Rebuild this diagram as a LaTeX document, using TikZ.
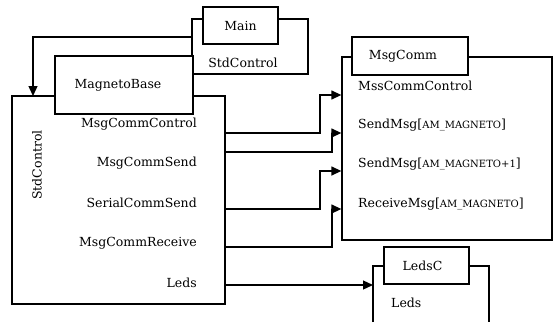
\documentclass[tikz,border=0pt]{standalone}
\usepackage{fontspec}
\setmainfont{DejaVu Serif}
\usetikzlibrary{arrows.meta}
\tikzset{
  frame/.style={draw,line width=1.3pt,minimum width=#1,inner sep=0pt},
  comp/.style={draw,fill=white,line width=1.3pt,inner sep=0pt,font=\fontsize{12.5}{15}\selectfont},
  iface/.style={inner sep=0pt,font=\fontsize{12.5}{15}\selectfont},
  wire/.style={line width=1.3pt,-{Triangle[length=10pt,width=9pt]}}
}
\newcommand{\am}[1]{{\fontsize{10}{12}\selectfont #1}}
\begin{document}
\begin{tikzpicture}[x=1pt,y=-1pt]
            \useasboundingbox (0,0) rectangle (559,322);
            % component frames
            \node[frame=116pt,minimum height=55pt] (mainf) at (250,46.5) {};
            \node[frame=213pt,minimum height=208pt] (magf) at (118.5,200) {};
            \node[frame=210pt,minimum height=183pt] (commf) at (447,148.5) {};
            \draw[line width=1.3pt] (373,322) |- (489,266) coordinate (ledsf) -- (489,322);
            % name boxes on top of the frames
            \node[comp,minimum width=75pt,minimum height=37pt] (main) at (240.5,25.5) {Main};
            \node[comp,minimum width=138pt,minimum height=58pt] (mag) at (124,85) {\hspace*{-12pt}MagnetoBase};
            \node[comp,minimum width=116pt,minimum height=38pt] (comm) at (410,56) {\hspace*{-14pt}MsgComm};
            \node[comp,minimum width=85pt,minimum height=37pt] (ledsc) at (426.5,265.5) {\hspace*{-8pt}LedsC};
            % interfaces
            \node[iface] (mainctl) at (243,63) {StdControl};
            \node[iface,rotate=90] (magctl) at (37,165) {StdControl};
            \node[iface,anchor=east] (pctl) at (197,124) {MsgCommControl};
            \node[iface,anchor=east] (psend) at (197,163) {MsgCommSend};
            \node[iface,anchor=east] (pserial) at (197,203) {SerialCommSend};
            \node[iface,anchor=east] (precv) at (197,243) {MsgCommReceive};
            \node[iface,anchor=east] (pleds) at (197,283) {Leds};
            \node[iface,anchor=west] (uctl) at (358,86) {MssCommControl};
            \node[iface,anchor=west] (usend) at (358,125) {SendMsg[\am{AM\_MAGNETO}]};
            \node[iface,anchor=west] (usendb) at (358,164) {SendMsg[\am{AM\_MAGNETO+1}]};
            \node[iface,anchor=west] (urecv) at (358,204) {ReceiveMsg[\am{AM\_MAGNETO}]};
            \node[iface,anchor=west] (uleds) at (391,303) {Leds};
            % wiring
            \coordinate (m0) at (192,37);
            \coordinate (s0) at (33,96);
            \draw[wire] (m0) -| (s0);
            \coordinate (o1) at (225,133);
            \coordinate (o2) at (225,152);
            \coordinate (o3) at (225,209);
            \coordinate (o4) at (225,247);
            \coordinate (o5) at (225,285);
            \draw[wire] (o1) -- (320,133) |- (commf.west |- 0,95);
            \draw[wire] (o2) -- (332,152) |- (commf.west |- 0,133);
            \draw[wire] (o3) -- (320,209) |- (commf.west |- 0,171);
            \draw[wire] (o4) -- (332,247) |- (commf.west |- 0,209);
            \draw[wire] (o5) -- (373,285);
        \end{tikzpicture}
\end{document}
